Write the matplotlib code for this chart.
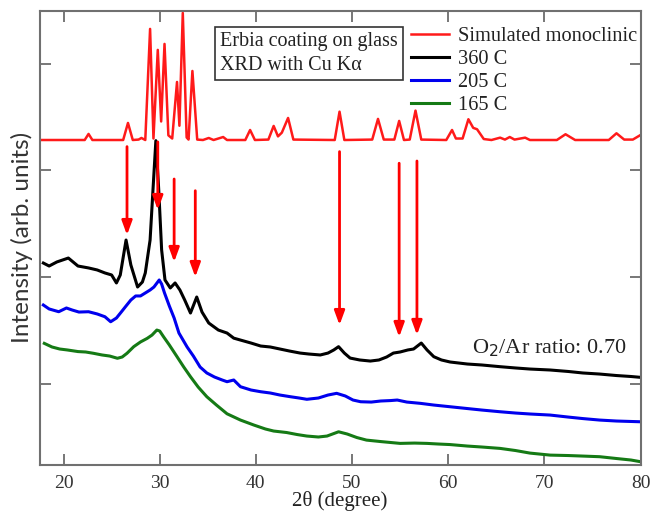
import matplotlib
matplotlib.use('Agg')
import matplotlib.pyplot as plt

# simulated monoclinic pattern (offset, arb. units)
sim_x = [17.5, 21.0, 22.2, 22.6, 23.0, 26.2, 26.7, 27.2, 27.8, 28.1, 28.5, 29.0, 29.35, 29.8,
         30.15, 30.5, 30.9, 31.3, 31.8, 32.05, 32.4, 32.8, 33.0, 33.4, 33.9, 34.5, 35.1, 35.6,
         36.6, 37.0, 38.9, 39.4, 39.9, 41.3, 41.85, 42.3, 42.7, 43.35, 43.9, 48.2, 48.7, 49.2,
         52.1, 52.7, 53.3, 54.4, 54.9, 55.4, 56.0, 56.6, 57.2, 59.8, 60.4, 60.8, 61.5, 62.1,
         62.6, 63.0, 63.7, 64.5, 65.4, 65.9, 66.4, 66.9, 68.0, 68.5, 71.3, 72.2, 73.2, 76.7,
         77.5, 78.3, 79.2, 80.0]
sim_y = [3286, 3286, 3286, 3343, 3286, 3286, 3446, 3286, 3290, 3305, 3286, 4329, 3300, 4132,
         3460, 4188, 3330, 3300, 3831, 3420, 4479, 3310, 3290, 3934, 3290, 3286, 3305, 3286,
         3314, 3286, 3286, 3380, 3286, 3290, 3418, 3320, 3355, 3493, 3290, 3286, 3552, 3286,
         3290, 3484, 3290, 3290, 3465, 3286, 3290, 3562, 3290, 3286, 3380, 3300, 3300, 3481,
         3400, 3387, 3295, 3286, 3308, 3290, 3314, 3290, 3308, 3286, 3286, 3340, 3286, 3286,
         3349, 3290, 3290, 3333]

# 360 C
x360 = [17.9, 18.5, 19.3, 20.5, 21.5, 22.6, 23.5, 24.3, 25.0, 25.5, 25.9, 26.5, 27.0, 27.7,
        28.2, 28.5, 29.0, 29.3, 29.6, 29.9, 30.2, 30.55, 31.1, 31.6, 32.1, 32.6, 33.2, 33.85,
        34.4, 35.1, 36.1, 37.0, 37.7, 38.4, 39.5, 40.5, 41.5, 42.5, 43.5, 44.6, 45.5, 46.7,
        47.5, 48.1, 48.6, 49.2, 49.8, 50.8, 51.9, 52.8, 53.6, 54.3, 55.0, 55.8, 56.4, 57.2,
        57.8, 58.5, 59.3, 60.2, 62.0, 63.5, 65.4, 67.0, 68.5, 70.6, 72.5, 74.0, 75.75, 77.5,
        79.0, 80.0]
y360 = [2131, 2103, 2141, 2178, 2103, 2085, 2066, 2038, 2019, 1944, 2019, 2347, 2113, 1906,
        1953, 2038, 2347, 2817, 3280, 2817, 2254, 1972, 1897, 1944, 1878, 1784, 1662, 1812,
        1671, 1568, 1502, 1474, 1426, 1408, 1380, 1352, 1343, 1324, 1305, 1286, 1277, 1268,
        1286, 1315, 1346, 1286, 1239, 1221, 1211, 1221, 1249, 1286, 1296, 1315, 1324, 1380,
        1315, 1252, 1221, 1202, 1183, 1174, 1158, 1146, 1136, 1127, 1113, 1099, 1089, 1075,
        1066, 1058]

# 205 C
x205 = [17.9, 18.5, 19.5, 20.3, 20.9, 21.6, 22.6, 23.5, 24.3, 24.9, 25.5, 26.0, 26.5, 27.0,
        27.5, 28.0, 28.5, 29.0, 29.4, 29.95, 30.2, 30.5, 31.0, 31.5, 32.0, 32.85, 33.5, 34.2,
        34.9, 35.7, 36.5, 37.0, 37.7, 38.4, 39.5, 40.5, 41.5, 42.5, 43.6, 44.5, 45.3, 46.5,
        47.5, 48.4, 49.3, 50.1, 50.9, 52.0, 53.0, 54.0, 54.7, 55.7, 57.1, 58.5, 60.2, 62.0,
        63.5, 65.4, 67.0, 68.5, 70.6, 72.5, 74.0, 75.75, 77.5, 80.0]
y205 = [1737, 1700, 1674, 1709, 1690, 1671, 1674, 1653, 1627, 1580, 1615, 1671, 1728, 1784,
        1822, 1822, 1850, 1878, 1906, 1972, 1934, 1850, 1728, 1615, 1474, 1343, 1258, 1155,
        1099, 1061, 1033, 1017, 1033, 970, 939, 923, 911, 892, 876, 864, 852, 864,
        892, 908, 883, 845, 829, 826, 836, 840, 845, 826, 814, 798, 782, 765,
        751, 735, 723, 714, 704, 685, 671, 657, 648, 641]

# 165 C
x165 = [18.0, 18.8, 19.6, 20.4, 21.5, 22.3, 23.1, 24.0, 24.8, 25.6, 26.1, 26.6, 27.3, 28.0,
        28.7, 29.2, 29.7, 30.0, 30.4, 31.0, 31.8, 32.5, 33.2, 34.0, 34.9, 35.9, 37.0, 38.4,
        39.8, 41.0, 41.85, 43.2, 44.3, 45.3, 46.5, 47.4, 48.6, 49.5, 50.5, 51.5, 53.0, 55.0,
        56.5, 57.8, 59.0, 60.2, 62.0, 63.5, 65.4, 67.0, 68.5, 70.6, 72.5, 74.0, 75.75, 77.5,
        79.0, 80.0]
y165 = [1377, 1343, 1324, 1315, 1300, 1296, 1284, 1268, 1258, 1237, 1249, 1284, 1346, 1390,
        1424, 1455, 1502, 1493, 1439, 1362, 1252, 1155, 1064, 967, 876, 798, 716, 657,
        610, 573, 554, 540, 521, 507, 498, 507, 547, 526, 493, 469, 455, 438,
        441, 438, 432, 427, 413, 404, 391, 371, 347, 328, 324, 319, 313, 296,
        282, 266]

# peak markers: position, arrow start, arrow tip
arrow_x = [26.6, 29.8, 31.5, 33.7, 48.7, 54.9, 56.75]
arrow_from = [3224, 3268, 2920, 2810, 3177, 3068, 3089]
arrow_to = [2394, 2629, 2141, 2000, 1549, 1437, 1456]

serif = ['Liberation Serif', 'DejaVu Serif']

fig = plt.figure(figsize=(6.54, 5.16), dpi=100)
ax = fig.add_axes([0.0604, 0.0988, 0.9190, 0.8805])

ax.plot(sim_x, sim_y, color='#ff1a1a', lw=1.8, label='Simulated monoclinic')
ax.plot(x360, y360, color='black', lw=2.2, label='360 C')
ax.plot(x205, y205, color='#0000ee', lw=2.2, label='205 C')
ax.plot(x165, y165, color='#157a15', lw=2.2, label='165 C')

for xa, y0, y1 in zip(arrow_x, arrow_from, arrow_to):
    ax.annotate('', xy=(xa, y1), xytext=(xa, y0),
                arrowprops=dict(arrowstyle='-|>,head_length=0.6,head_width=0.22',
                                color='red', lw=2, mutation_scale=14,
                                shrinkA=0, shrinkB=0))

ax.set_xlim(17.5, 80)
ax.set_ylim(235, 4500)
ax.set_xticks([20, 30, 40, 50, 60, 70, 80])
ax.set_yticks([1000, 2000, 3000, 4000])
ax.set_yticklabels([])
ax.tick_params(direction='in', top=True, right=True, length=8, width=1.2,
               colors='#606060', labelcolor='#333333', labelsize=14, pad=7.5)
for lab in ax.get_xticklabels():
    lab.set_family(serif)
for s in ax.spines.values():
    s.set_color('#707070')
    s.set_linewidth(1.5)

ax.set_xlabel('2θ (degree)', family=serif, fontsize=15, color='#222222', labelpad=-1)
ax.set_ylabel('Intensity (arb. units)', family=['Lato', 'DejaVu Sans'],
              fontsize=17.5, color='#333333', labelpad=-2.5)

ax.text(0.3003, 0.953, 'Erbia coating on glass\nXRD with Cu Kα', transform=ax.transAxes,
        ha='left', va='top', family=serif, fontsize=14.5, color='#222222', linespacing=1.35,
        bbox=dict(boxstyle='square,pad=0.25', fc='white', ec='#333333', lw=1.2))

ax.text(62.46, 1286, 'O$_2$/Ar ratio: 0.70', family=serif, fontsize=16, color='#222222',
        va='baseline', ha='left')

leg = ax.legend(loc='upper left', bbox_to_anchor=(0.6176, 0.964), frameon=False,
                borderaxespad=0, borderpad=0, handlelength=1.9, handletextpad=0.4,
                labelspacing=0.18, prop={'family': serif, 'size': 14.7})
for t in leg.get_texts():
    t.set_color('#222222')

fig.savefig('out.png', dpi=100)
